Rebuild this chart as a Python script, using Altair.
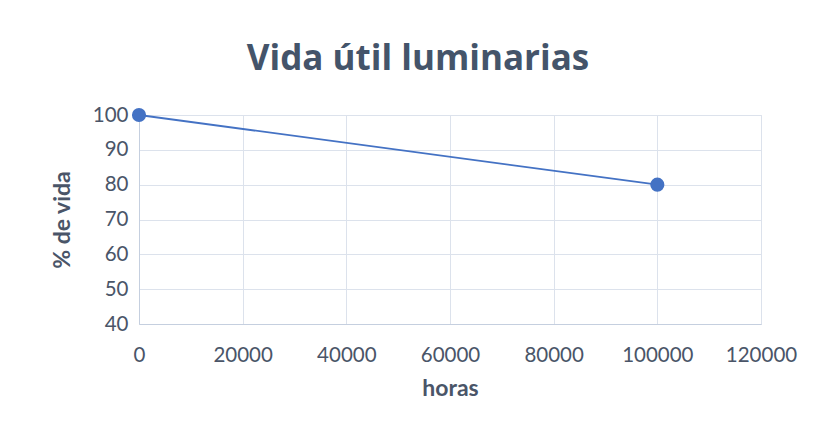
import altair as alt
import pandas as pd

horas = [0, 100000]
vida = [100, 80]

df = pd.DataFrame({"horas": horas, "vida": vida})

TXT = "#4A5568"
GRID = "#DCE2EC"
FONT = "Lato"

x = alt.X("horas:Q", title="horas",
          scale=alt.Scale(domain=[0, 120000], nice=False, zero=False),
          axis=alt.Axis(values=[0, 20000, 40000, 60000, 80000, 100000, 120000],
                        format="d", labelPadding=21, titlePadding=12, labelFlush=False,
                        ticks=False, domainColor="#C5CFDF", gridColor=GRID,
                        labelFontSize=20.5, titleFontSize=23, titleFontWeight="bold",
                        labelColor=TXT, titleColor=TXT, labelFont=FONT, titleFont=FONT))
y = alt.Y("vida:Q", title="% de vida",
          scale=alt.Scale(domain=[40, 100], nice=False, zero=False),
          axis=alt.Axis(values=[40, 50, 60, 70, 80, 90, 100],
                        labelPadding=11, titlePadding=18,
                        ticks=False, domainColor="#C5CFDF", gridColor=GRID,
                        labelFontSize=20.5, titleFontSize=23, titleFontWeight="bold",
                        labelColor=TXT, titleColor=TXT, labelFont=FONT, titleFont=FONT))

line = alt.Chart(df).mark_line(color="#4472C4", strokeWidth=1.8).encode(x=x, y=y)
pts = alt.Chart(df).mark_point(filled=True, color="#4472C4", size=200, opacity=1).encode(x=x, y=y)

chart = alt.layer(line, pts).properties(
    width=622, height=209,
    padding={"left": 131, "top": 107, "right": 48, "bottom": 100},
    autosize=alt.AutoSizeParams(type="none"),
    title=alt.TitleParams("Vida útil luminarias", fontSize=35, font="Open Sans", fontWeight="bold",
                          color="#44546A", anchor="middle", dx=-32, offset=28),
).configure_view(stroke=None).configure(background="white")

chart.save("out.html", embed_options={"renderer": "svg", "actions": False})
